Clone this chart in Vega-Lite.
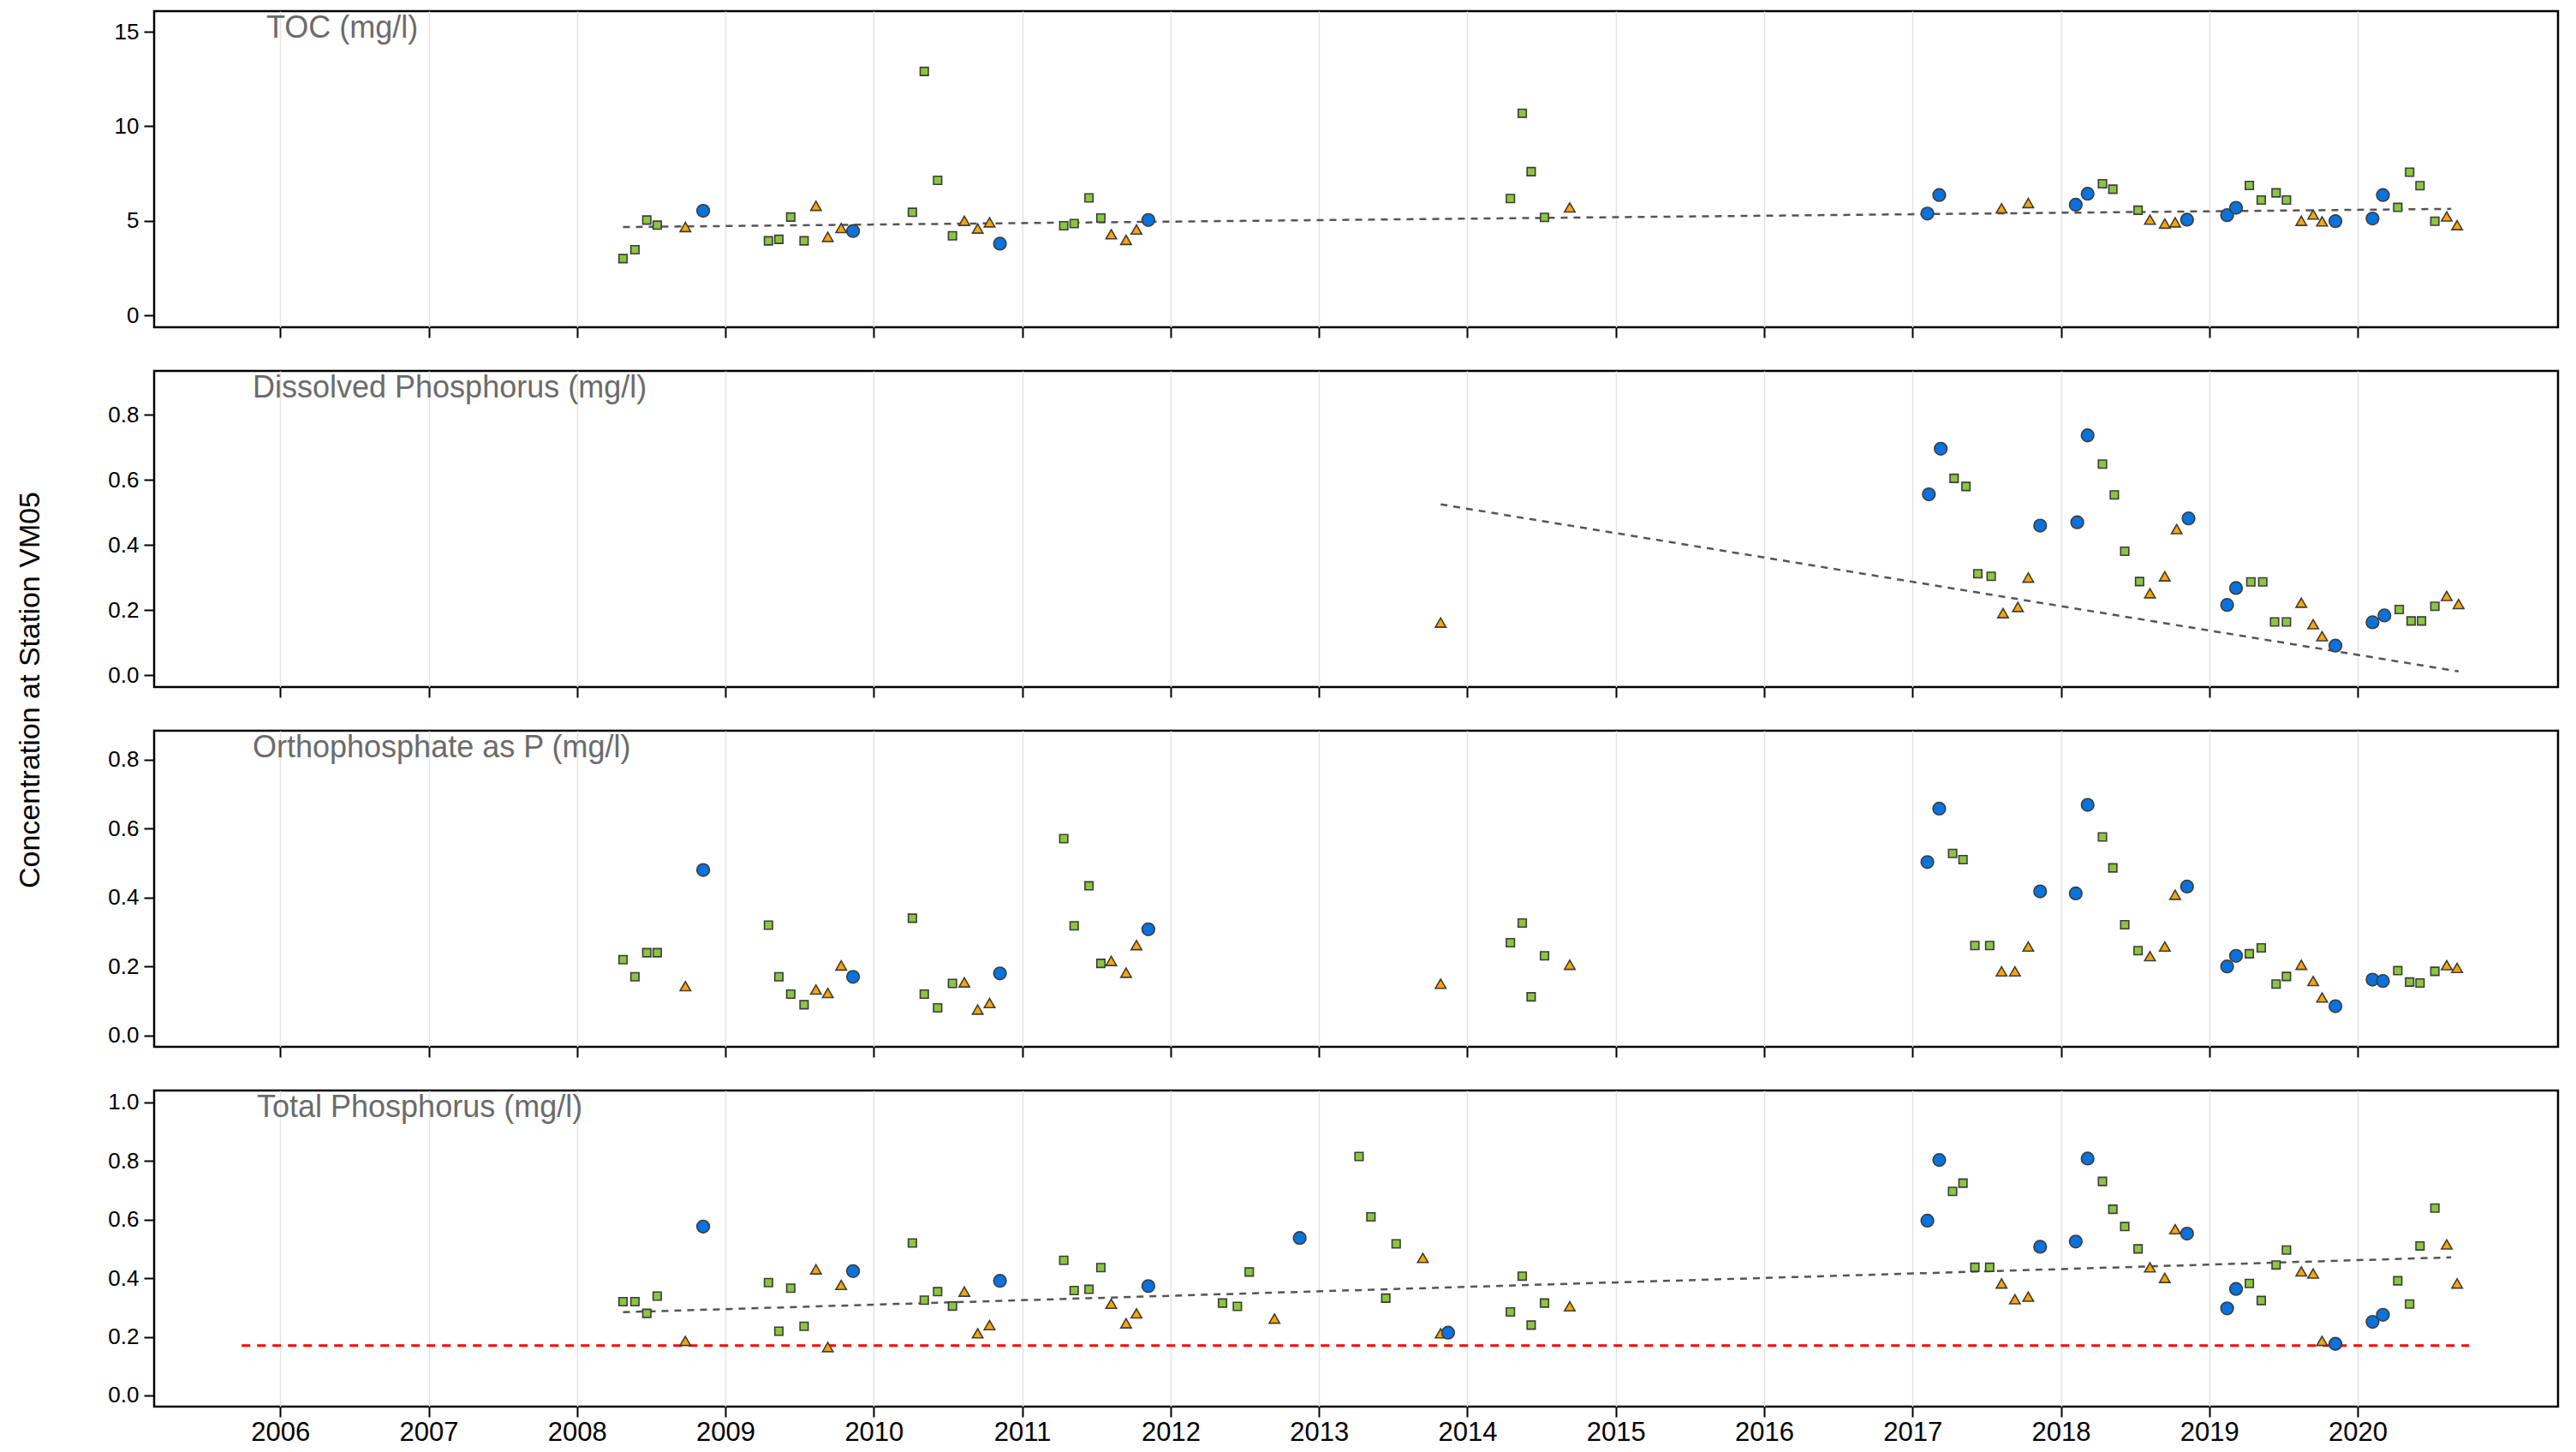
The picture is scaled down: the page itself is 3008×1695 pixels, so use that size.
{
  "$schema": "https://vega.github.io/schema/vega-lite/v6.json",
  "background": "white",
  "padding": {"left": 16, "top": 11, "right": 5, "bottom": 5},
  "bounds": "flush",
  "spacing": 51,
  "config": {
    "font": "Liberation Sans",
    "view": {"stroke": "#000000", "strokeWidth": 2.5},
    "axis": {"domain": false, "tickColor": "#000000", "tickWidth": 2, "tickSize": 12, "labelColor": "#000000", "labelFont": "Liberation Sans", "titleFont": "Liberation Sans", "titleFontWeight": "normal", "titleColor": "#000000"},
    "axisX": {"grid": true, "gridColor": "#e3e3e3", "gridWidth": 1.5, "labelFontSize": 31, "labelPadding": 3},
    "axisY": {"grid": false, "labelFontSize": 26, "labelPadding": 6},
    "title": {"anchor": "start", "frame": "group", "orient": "top", "offset": -39, "fontSize": 36, "fontWeight": "normal", "color": "#6b6b6b", "font": "Liberation Sans"}
  },
  "datasets": {
    "obs": [
      {"param": "TOC", "year": 2008.31, "value": 3.0, "season": "Apr-Jul"},
      {"param": "TOC", "year": 2008.39, "value": 3.47, "season": "Apr-Jul"},
      {"param": "TOC", "year": 2008.47, "value": 5.04, "season": "Apr-Jul"},
      {"param": "TOC", "year": 2008.54, "value": 4.77, "season": "Apr-Jul"},
      {"param": "TOC", "year": 2008.73, "value": 4.67, "season": "Aug-Oct"},
      {"param": "TOC", "year": 2008.85, "value": 5.53, "season": "Nov-Mar"},
      {"param": "TOC", "year": 2009.29, "value": 3.94, "season": "Apr-Jul"},
      {"param": "TOC", "year": 2009.36, "value": 4.02, "season": "Apr-Jul"},
      {"param": "TOC", "year": 2009.44, "value": 5.2, "season": "Apr-Jul"},
      {"param": "TOC", "year": 2009.53, "value": 3.94, "season": "Apr-Jul"},
      {"param": "TOC", "year": 2009.61, "value": 5.79, "season": "Aug-Oct"},
      {"param": "TOC", "year": 2009.69, "value": 4.15, "season": "Aug-Oct"},
      {"param": "TOC", "year": 2009.78, "value": 4.62, "season": "Aug-Oct"},
      {"param": "TOC", "year": 2009.86, "value": 4.46, "season": "Nov-Mar"},
      {"param": "TOC", "year": 2010.26, "value": 5.45, "season": "Apr-Jul"},
      {"param": "TOC", "year": 2010.34, "value": 12.9, "season": "Apr-Jul"},
      {"param": "TOC", "year": 2010.43, "value": 7.14, "season": "Apr-Jul"},
      {"param": "TOC", "year": 2010.53, "value": 4.21, "season": "Apr-Jul"},
      {"param": "TOC", "year": 2010.61, "value": 5.0, "season": "Aug-Oct"},
      {"param": "TOC", "year": 2010.70, "value": 4.59, "season": "Aug-Oct"},
      {"param": "TOC", "year": 2010.78, "value": 4.92, "season": "Aug-Oct"},
      {"param": "TOC", "year": 2010.85, "value": 3.79, "season": "Nov-Mar"},
      {"param": "TOC", "year": 2011.28, "value": 4.74, "season": "Apr-Jul"},
      {"param": "TOC", "year": 2011.35, "value": 4.85, "season": "Apr-Jul"},
      {"param": "TOC", "year": 2011.45, "value": 6.21, "season": "Apr-Jul"},
      {"param": "TOC", "year": 2011.53, "value": 5.15, "season": "Apr-Jul"},
      {"param": "TOC", "year": 2011.60, "value": 4.29, "season": "Aug-Oct"},
      {"param": "TOC", "year": 2011.70, "value": 3.99, "season": "Aug-Oct"},
      {"param": "TOC", "year": 2011.77, "value": 4.54, "season": "Aug-Oct"},
      {"param": "TOC", "year": 2011.85, "value": 5.04, "season": "Nov-Mar"},
      {"param": "TOC", "year": 2014.29, "value": 6.18, "season": "Apr-Jul"},
      {"param": "TOC", "year": 2014.37, "value": 10.69, "season": "Apr-Jul"},
      {"param": "TOC", "year": 2014.43, "value": 7.6, "season": "Apr-Jul"},
      {"param": "TOC", "year": 2014.52, "value": 5.18, "season": "Apr-Jul"},
      {"param": "TOC", "year": 2014.69, "value": 5.71, "season": "Aug-Oct"},
      {"param": "TOC", "year": 2017.10, "value": 5.38, "season": "Nov-Mar"},
      {"param": "TOC", "year": 2017.18, "value": 6.36, "season": "Nov-Mar"},
      {"param": "TOC", "year": 2017.60, "value": 5.66, "season": "Aug-Oct"},
      {"param": "TOC", "year": 2017.78, "value": 5.94, "season": "Aug-Oct"},
      {"param": "TOC", "year": 2018.10, "value": 5.85, "season": "Nov-Mar"},
      {"param": "TOC", "year": 2018.18, "value": 6.43, "season": "Nov-Mar"},
      {"param": "TOC", "year": 2018.28, "value": 6.96, "season": "Apr-Jul"},
      {"param": "TOC", "year": 2018.35, "value": 6.67, "season": "Apr-Jul"},
      {"param": "TOC", "year": 2018.52, "value": 5.56, "season": "Apr-Jul"},
      {"param": "TOC", "year": 2018.60, "value": 5.06, "season": "Aug-Oct"},
      {"param": "TOC", "year": 2018.70, "value": 4.85, "season": "Aug-Oct"},
      {"param": "TOC", "year": 2018.77, "value": 4.92, "season": "Aug-Oct"},
      {"param": "TOC", "year": 2018.85, "value": 5.06, "season": "Nov-Mar"},
      {"param": "TOC", "year": 2019.12, "value": 5.3, "season": "Nov-Mar"},
      {"param": "TOC", "year": 2019.18, "value": 5.69, "season": "Nov-Mar"},
      {"param": "TOC", "year": 2019.27, "value": 6.87, "season": "Apr-Jul"},
      {"param": "TOC", "year": 2019.35, "value": 6.1, "season": "Apr-Jul"},
      {"param": "TOC", "year": 2019.45, "value": 6.48, "season": "Apr-Jul"},
      {"param": "TOC", "year": 2019.52, "value": 6.1, "season": "Apr-Jul"},
      {"param": "TOC", "year": 2019.62, "value": 5.0, "season": "Aug-Oct"},
      {"param": "TOC", "year": 2019.70, "value": 5.33, "season": "Aug-Oct"},
      {"param": "TOC", "year": 2019.76, "value": 4.97, "season": "Aug-Oct"},
      {"param": "TOC", "year": 2019.85, "value": 4.98, "season": "Nov-Mar"},
      {"param": "TOC", "year": 2020.10, "value": 5.12, "season": "Nov-Mar"},
      {"param": "TOC", "year": 2020.17, "value": 6.36, "season": "Nov-Mar"},
      {"param": "TOC", "year": 2020.27, "value": 5.71, "season": "Apr-Jul"},
      {"param": "TOC", "year": 2020.35, "value": 7.57, "season": "Apr-Jul"},
      {"param": "TOC", "year": 2020.42, "value": 6.86, "season": "Apr-Jul"},
      {"param": "TOC", "year": 2020.52, "value": 4.98, "season": "Apr-Jul"},
      {"param": "TOC", "year": 2020.60, "value": 5.23, "season": "Aug-Oct"},
      {"param": "TOC", "year": 2020.67, "value": 4.77, "season": "Aug-Oct"},

      {"param": "DP", "year": 2013.82, "value": 0.162, "season": "Aug-Oct"},
      {"param": "DP", "year": 2017.11, "value": 0.556, "season": "Nov-Mar"},
      {"param": "DP", "year": 2017.19, "value": 0.696, "season": "Nov-Mar"},
      {"param": "DP", "year": 2017.28, "value": 0.605, "season": "Apr-Jul"},
      {"param": "DP", "year": 2017.36, "value": 0.58, "season": "Apr-Jul"},
      {"param": "DP", "year": 2017.44, "value": 0.312, "season": "Apr-Jul"},
      {"param": "DP", "year": 2017.53, "value": 0.304, "season": "Apr-Jul"},
      {"param": "DP", "year": 2017.61, "value": 0.191, "season": "Aug-Oct"},
      {"param": "DP", "year": 2017.71, "value": 0.21, "season": "Aug-Oct"},
      {"param": "DP", "year": 2017.78, "value": 0.30, "season": "Aug-Oct"},
      {"param": "DP", "year": 2017.86, "value": 0.46, "season": "Nov-Mar"},
      {"param": "DP", "year": 2018.11, "value": 0.47, "season": "Nov-Mar"},
      {"param": "DP", "year": 2018.18, "value": 0.737, "season": "Nov-Mar"},
      {"param": "DP", "year": 2018.28, "value": 0.649, "season": "Apr-Jul"},
      {"param": "DP", "year": 2018.36, "value": 0.554, "season": "Apr-Jul"},
      {"param": "DP", "year": 2018.43, "value": 0.381, "season": "Apr-Jul"},
      {"param": "DP", "year": 2018.53, "value": 0.288, "season": "Apr-Jul"},
      {"param": "DP", "year": 2018.60, "value": 0.252, "season": "Aug-Oct"},
      {"param": "DP", "year": 2018.70, "value": 0.304, "season": "Aug-Oct"},
      {"param": "DP", "year": 2018.78, "value": 0.449, "season": "Aug-Oct"},
      {"param": "DP", "year": 2018.86, "value": 0.482, "season": "Nov-Mar"},
      {"param": "DP", "year": 2019.12, "value": 0.216, "season": "Nov-Mar"},
      {"param": "DP", "year": 2019.18, "value": 0.268, "season": "Nov-Mar"},
      {"param": "DP", "year": 2019.28, "value": 0.287, "season": "Apr-Jul"},
      {"param": "DP", "year": 2019.36, "value": 0.287, "season": "Apr-Jul"},
      {"param": "DP", "year": 2019.44, "value": 0.164, "season": "Apr-Jul"},
      {"param": "DP", "year": 2019.52, "value": 0.164, "season": "Apr-Jul"},
      {"param": "DP", "year": 2019.62, "value": 0.223, "season": "Aug-Oct"},
      {"param": "DP", "year": 2019.70, "value": 0.157, "season": "Aug-Oct"},
      {"param": "DP", "year": 2019.76, "value": 0.12, "season": "Aug-Oct"},
      {"param": "DP", "year": 2019.85, "value": 0.091, "season": "Nov-Mar"},
      {"param": "DP", "year": 2020.10, "value": 0.163, "season": "Nov-Mar"},
      {"param": "DP", "year": 2020.18, "value": 0.184, "season": "Nov-Mar"},
      {"param": "DP", "year": 2020.28, "value": 0.202, "season": "Apr-Jul"},
      {"param": "DP", "year": 2020.36, "value": 0.167, "season": "Apr-Jul"},
      {"param": "DP", "year": 2020.43, "value": 0.167, "season": "Apr-Jul"},
      {"param": "DP", "year": 2020.52, "value": 0.212, "season": "Apr-Jul"},
      {"param": "DP", "year": 2020.60, "value": 0.244, "season": "Aug-Oct"},
      {"param": "DP", "year": 2020.68, "value": 0.219, "season": "Aug-Oct"},

      {"param": "OP", "year": 2008.31, "value": 0.220, "season": "Apr-Jul"},
      {"param": "OP", "year": 2008.39, "value": 0.170, "season": "Apr-Jul"},
      {"param": "OP", "year": 2008.47, "value": 0.240, "season": "Apr-Jul"},
      {"param": "OP", "year": 2008.54, "value": 0.240, "season": "Apr-Jul"},
      {"param": "OP", "year": 2008.73, "value": 0.143, "season": "Aug-Oct"},
      {"param": "OP", "year": 2008.85, "value": 0.480, "season": "Nov-Mar"},
      {"param": "OP", "year": 2009.29, "value": 0.320, "season": "Apr-Jul"},
      {"param": "OP", "year": 2009.36, "value": 0.170, "season": "Apr-Jul"},
      {"param": "OP", "year": 2009.44, "value": 0.120, "season": "Apr-Jul"},
      {"param": "OP", "year": 2009.53, "value": 0.089, "season": "Apr-Jul"},
      {"param": "OP", "year": 2009.61, "value": 0.133, "season": "Aug-Oct"},
      {"param": "OP", "year": 2009.69, "value": 0.123, "season": "Aug-Oct"},
      {"param": "OP", "year": 2009.78, "value": 0.203, "season": "Aug-Oct"},
      {"param": "OP", "year": 2009.86, "value": 0.170, "season": "Nov-Mar"},
      {"param": "OP", "year": 2010.26, "value": 0.340, "season": "Apr-Jul"},
      {"param": "OP", "year": 2010.34, "value": 0.120, "season": "Apr-Jul"},
      {"param": "OP", "year": 2010.43, "value": 0.080, "season": "Apr-Jul"},
      {"param": "OP", "year": 2010.53, "value": 0.151, "season": "Apr-Jul"},
      {"param": "OP", "year": 2010.61, "value": 0.154, "season": "Aug-Oct"},
      {"param": "OP", "year": 2010.70, "value": 0.075, "season": "Aug-Oct"},
      {"param": "OP", "year": 2010.78, "value": 0.094, "season": "Aug-Oct"},
      {"param": "OP", "year": 2010.85, "value": 0.180, "season": "Nov-Mar"},
      {"param": "OP", "year": 2011.28, "value": 0.571, "season": "Apr-Jul"},
      {"param": "OP", "year": 2011.35, "value": 0.318, "season": "Apr-Jul"},
      {"param": "OP", "year": 2011.45, "value": 0.434, "season": "Apr-Jul"},
      {"param": "OP", "year": 2011.53, "value": 0.209, "season": "Apr-Jul"},
      {"param": "OP", "year": 2011.60, "value": 0.216, "season": "Aug-Oct"},
      {"param": "OP", "year": 2011.70, "value": 0.182, "season": "Aug-Oct"},
      {"param": "OP", "year": 2011.77, "value": 0.262, "season": "Aug-Oct"},
      {"param": "OP", "year": 2011.85, "value": 0.308, "season": "Nov-Mar"},
      {"param": "OP", "year": 2013.82, "value": 0.150, "season": "Aug-Oct"},
      {"param": "OP", "year": 2014.29, "value": 0.269, "season": "Apr-Jul"},
      {"param": "OP", "year": 2014.37, "value": 0.326, "season": "Apr-Jul"},
      {"param": "OP", "year": 2014.43, "value": 0.112, "season": "Apr-Jul"},
      {"param": "OP", "year": 2014.52, "value": 0.231, "season": "Apr-Jul"},
      {"param": "OP", "year": 2014.69, "value": 0.205, "season": "Aug-Oct"},
      {"param": "OP", "year": 2017.10, "value": 0.503, "season": "Nov-Mar"},
      {"param": "OP", "year": 2017.18, "value": 0.658, "season": "Nov-Mar"},
      {"param": "OP", "year": 2017.27, "value": 0.528, "season": "Apr-Jul"},
      {"param": "OP", "year": 2017.34, "value": 0.510, "season": "Apr-Jul"},
      {"param": "OP", "year": 2017.42, "value": 0.261, "season": "Apr-Jul"},
      {"param": "OP", "year": 2017.52, "value": 0.261, "season": "Apr-Jul"},
      {"param": "OP", "year": 2017.60, "value": 0.186, "season": "Aug-Oct"},
      {"param": "OP", "year": 2017.69, "value": 0.186, "season": "Aug-Oct"},
      {"param": "OP", "year": 2017.78, "value": 0.258, "season": "Aug-Oct"},
      {"param": "OP", "year": 2017.86, "value": 0.418, "season": "Nov-Mar"},
      {"param": "OP", "year": 2018.10, "value": 0.412, "season": "Nov-Mar"},
      {"param": "OP", "year": 2018.18, "value": 0.669, "season": "Nov-Mar"},
      {"param": "OP", "year": 2018.28, "value": 0.576, "season": "Apr-Jul"},
      {"param": "OP", "year": 2018.35, "value": 0.486, "season": "Apr-Jul"},
      {"param": "OP", "year": 2018.43, "value": 0.321, "season": "Apr-Jul"},
      {"param": "OP", "year": 2018.52, "value": 0.246, "season": "Apr-Jul"},
      {"param": "OP", "year": 2018.60, "value": 0.230, "season": "Aug-Oct"},
      {"param": "OP", "year": 2018.70, "value": 0.258, "season": "Aug-Oct"},
      {"param": "OP", "year": 2018.77, "value": 0.408, "season": "Aug-Oct"},
      {"param": "OP", "year": 2018.85, "value": 0.432, "season": "Nov-Mar"},
      {"param": "OP", "year": 2019.12, "value": 0.200, "season": "Nov-Mar"},
      {"param": "OP", "year": 2019.18, "value": 0.231, "season": "Nov-Mar"},
      {"param": "OP", "year": 2019.27, "value": 0.237, "season": "Apr-Jul"},
      {"param": "OP", "year": 2019.35, "value": 0.254, "season": "Apr-Jul"},
      {"param": "OP", "year": 2019.45, "value": 0.149, "season": "Apr-Jul"},
      {"param": "OP", "year": 2019.52, "value": 0.171, "season": "Apr-Jul"},
      {"param": "OP", "year": 2019.62, "value": 0.205, "season": "Aug-Oct"},
      {"param": "OP", "year": 2019.70, "value": 0.158, "season": "Aug-Oct"},
      {"param": "OP", "year": 2019.76, "value": 0.110, "season": "Aug-Oct"},
      {"param": "OP", "year": 2019.85, "value": 0.085, "season": "Nov-Mar"},
      {"param": "OP", "year": 2020.10, "value": 0.162, "season": "Nov-Mar"},
      {"param": "OP", "year": 2020.17, "value": 0.158, "season": "Nov-Mar"},
      {"param": "OP", "year": 2020.27, "value": 0.188, "season": "Apr-Jul"},
      {"param": "OP", "year": 2020.35, "value": 0.155, "season": "Apr-Jul"},
      {"param": "OP", "year": 2020.42, "value": 0.152, "season": "Apr-Jul"},
      {"param": "OP", "year": 2020.52, "value": 0.186, "season": "Apr-Jul"},
      {"param": "OP", "year": 2020.60, "value": 0.204, "season": "Aug-Oct"},
      {"param": "OP", "year": 2020.67, "value": 0.196, "season": "Aug-Oct"},

      {"param": "TP", "year": 2008.31, "value": 0.320, "season": "Apr-Jul"},
      {"param": "TP", "year": 2008.39, "value": 0.320, "season": "Apr-Jul"},
      {"param": "TP", "year": 2008.47, "value": 0.280, "season": "Apr-Jul"},
      {"param": "TP", "year": 2008.54, "value": 0.339, "season": "Apr-Jul"},
      {"param": "TP", "year": 2008.73, "value": 0.186, "season": "Aug-Oct"},
      {"param": "TP", "year": 2008.85, "value": 0.576, "season": "Nov-Mar"},
      {"param": "TP", "year": 2009.29, "value": 0.385, "season": "Apr-Jul"},
      {"param": "TP", "year": 2009.36, "value": 0.219, "season": "Apr-Jul"},
      {"param": "TP", "year": 2009.44, "value": 0.366, "season": "Apr-Jul"},
      {"param": "TP", "year": 2009.53, "value": 0.236, "season": "Apr-Jul"},
      {"param": "TP", "year": 2009.61, "value": 0.430, "season": "Aug-Oct"},
      {"param": "TP", "year": 2009.69, "value": 0.165, "season": "Aug-Oct"},
      {"param": "TP", "year": 2009.78, "value": 0.377, "season": "Aug-Oct"},
      {"param": "TP", "year": 2009.86, "value": 0.424, "season": "Nov-Mar"},
      {"param": "TP", "year": 2010.26, "value": 0.520, "season": "Apr-Jul"},
      {"param": "TP", "year": 2010.34, "value": 0.325, "season": "Apr-Jul"},
      {"param": "TP", "year": 2010.43, "value": 0.354, "season": "Apr-Jul"},
      {"param": "TP", "year": 2010.53, "value": 0.305, "season": "Apr-Jul"},
      {"param": "TP", "year": 2010.61, "value": 0.354, "season": "Aug-Oct"},
      {"param": "TP", "year": 2010.70, "value": 0.212, "season": "Aug-Oct"},
      {"param": "TP", "year": 2010.78, "value": 0.240, "season": "Aug-Oct"},
      {"param": "TP", "year": 2010.85, "value": 0.391, "season": "Nov-Mar"},
      {"param": "TP", "year": 2011.28, "value": 0.461, "season": "Apr-Jul"},
      {"param": "TP", "year": 2011.35, "value": 0.358, "season": "Apr-Jul"},
      {"param": "TP", "year": 2011.45, "value": 0.362, "season": "Apr-Jul"},
      {"param": "TP", "year": 2011.53, "value": 0.436, "season": "Apr-Jul"},
      {"param": "TP", "year": 2011.60, "value": 0.313, "season": "Aug-Oct"},
      {"param": "TP", "year": 2011.70, "value": 0.246, "season": "Aug-Oct"},
      {"param": "TP", "year": 2011.77, "value": 0.280, "season": "Aug-Oct"},
      {"param": "TP", "year": 2011.85, "value": 0.373, "season": "Nov-Mar"},
      {"param": "TP", "year": 2012.35, "value": 0.315, "season": "Apr-Jul"},
      {"param": "TP", "year": 2012.45, "value": 0.304, "season": "Apr-Jul"},
      {"param": "TP", "year": 2012.53, "value": 0.421, "season": "Apr-Jul"},
      {"param": "TP", "year": 2012.70, "value": 0.262, "season": "Aug-Oct"},
      {"param": "TP", "year": 2012.87, "value": 0.537, "season": "Nov-Mar"},
      {"param": "TP", "year": 2013.27, "value": 0.815, "season": "Apr-Jul"},
      {"param": "TP", "year": 2013.35, "value": 0.609, "season": "Apr-Jul"},
      {"param": "TP", "year": 2013.45, "value": 0.332, "season": "Apr-Jul"},
      {"param": "TP", "year": 2013.52, "value": 0.517, "season": "Apr-Jul"},
      {"param": "TP", "year": 2013.70, "value": 0.469, "season": "Aug-Oct"},
      {"param": "TP", "year": 2013.82, "value": 0.212, "season": "Aug-Oct"},
      {"param": "TP", "year": 2013.87, "value": 0.214, "season": "Nov-Mar"},
      {"param": "TP", "year": 2014.29, "value": 0.285, "season": "Apr-Jul"},
      {"param": "TP", "year": 2014.37, "value": 0.407, "season": "Apr-Jul"},
      {"param": "TP", "year": 2014.43, "value": 0.240, "season": "Apr-Jul"},
      {"param": "TP", "year": 2014.52, "value": 0.315, "season": "Apr-Jul"},
      {"param": "TP", "year": 2014.69, "value": 0.304, "season": "Aug-Oct"},
      {"param": "TP", "year": 2017.10, "value": 0.596, "season": "Nov-Mar"},
      {"param": "TP", "year": 2017.18, "value": 0.803, "season": "Nov-Mar"},
      {"param": "TP", "year": 2017.27, "value": 0.696, "season": "Apr-Jul"},
      {"param": "TP", "year": 2017.34, "value": 0.724, "season": "Apr-Jul"},
      {"param": "TP", "year": 2017.42, "value": 0.437, "season": "Apr-Jul"},
      {"param": "TP", "year": 2017.52, "value": 0.437, "season": "Apr-Jul"},
      {"param": "TP", "year": 2017.60, "value": 0.382, "season": "Aug-Oct"},
      {"param": "TP", "year": 2017.69, "value": 0.328, "season": "Aug-Oct"},
      {"param": "TP", "year": 2017.78, "value": 0.337, "season": "Aug-Oct"},
      {"param": "TP", "year": 2017.86, "value": 0.507, "season": "Nov-Mar"},
      {"param": "TP", "year": 2018.10, "value": 0.525, "season": "Nov-Mar"},
      {"param": "TP", "year": 2018.18, "value": 0.808, "season": "Nov-Mar"},
      {"param": "TP", "year": 2018.28, "value": 0.730, "season": "Apr-Jul"},
      {"param": "TP", "year": 2018.35, "value": 0.635, "season": "Apr-Jul"},
      {"param": "TP", "year": 2018.43, "value": 0.576, "season": "Apr-Jul"},
      {"param": "TP", "year": 2018.52, "value": 0.500, "season": "Apr-Jul"},
      {"param": "TP", "year": 2018.60, "value": 0.437, "season": "Aug-Oct"},
      {"param": "TP", "year": 2018.70, "value": 0.401, "season": "Aug-Oct"},
      {"param": "TP", "year": 2018.77, "value": 0.567, "season": "Aug-Oct"},
      {"param": "TP", "year": 2018.85, "value": 0.552, "season": "Nov-Mar"},
      {"param": "TP", "year": 2019.12, "value": 0.297, "season": "Nov-Mar"},
      {"param": "TP", "year": 2019.18, "value": 0.363, "season": "Nov-Mar"},
      {"param": "TP", "year": 2019.27, "value": 0.382, "season": "Apr-Jul"},
      {"param": "TP", "year": 2019.35, "value": 0.324, "season": "Apr-Jul"},
      {"param": "TP", "year": 2019.45, "value": 0.445, "season": "Apr-Jul"},
      {"param": "TP", "year": 2019.52, "value": 0.496, "season": "Apr-Jul"},
      {"param": "TP", "year": 2019.62, "value": 0.423, "season": "Aug-Oct"},
      {"param": "TP", "year": 2019.70, "value": 0.416, "season": "Aug-Oct"},
      {"param": "TP", "year": 2019.76, "value": 0.186, "season": "Aug-Oct"},
      {"param": "TP", "year": 2019.85, "value": 0.176, "season": "Nov-Mar"},
      {"param": "TP", "year": 2020.10, "value": 0.251, "season": "Nov-Mar"},
      {"param": "TP", "year": 2020.17, "value": 0.275, "season": "Nov-Mar"},
      {"param": "TP", "year": 2020.27, "value": 0.391, "season": "Apr-Jul"},
      {"param": "TP", "year": 2020.35, "value": 0.312, "season": "Apr-Jul"},
      {"param": "TP", "year": 2020.42, "value": 0.510, "season": "Apr-Jul"},
      {"param": "TP", "year": 2020.52, "value": 0.639, "season": "Apr-Jul"},
      {"param": "TP", "year": 2020.60, "value": 0.515, "season": "Aug-Oct"},
      {"param": "TP", "year": 2020.67, "value": 0.382, "season": "Aug-Oct"}
    ],
    "trend": [
      {"param": "TOC", "year": 2008.31, "value": 4.67},
      {"param": "TOC", "year": 2020.63, "value": 5.63},
      {"param": "DP", "year": 2013.82, "value": 0.525},
      {"param": "DP", "year": 2020.68, "value": 0.012},
      {"param": "TP", "year": 2008.31, "value": 0.284},
      {"param": "TP", "year": 2020.63, "value": 0.471}
    ],
    "reference": [
      {"param": "TP", "start": 2005.74, "end": 2020.75, "value": 0.17}
    ]
  },
  "vconcat": [
    {
      "width": 2807,
      "height": 369,
      "title": {"text": "TOC (mg/l)", "dx": 131},
      "layer": [
        {
          "data": {"name": "trend"},
          "transform": [{"filter": "datum.param === 'TOC'"}],
          "mark": {"type": "line", "stroke": "#555555", "strokeWidth": 2.5, "strokeDash": [8, 7]},
          "encoding": {
            "x": {"field": "year", "type": "quantitative", "scale": {"domain": [2005.15, 2021.35], "nice": false, "zero": false}, "axis": {"values": [2006, 2007, 2008, 2009, 2010, 2011, 2012, 2013, 2014, 2015, 2016, 2017, 2018, 2019, 2020], "format": "d", "labels": false, "title": null}},
            "y": {"field": "value", "type": "quantitative", "scale": {"domain": [-0.63, 16.09], "nice": false, "zero": false}, "axis": {"values": [0, 5, 10, 15], "format": "d", "title": null}}
          }
        },
        {
          "data": {"name": "obs"},
          "transform": [{"filter": "datum.param === 'TOC'"}],
          "mark": {"type": "point", "filled": true, "stroke": "#3c3c3c", "strokeWidth": 1.6, "opacity": 1},
          "encoding": {
            "x": {"field": "year", "type": "quantitative"},
            "y": {"field": "value", "type": "quantitative"},
            "shape": {"field": "season", "type": "nominal", "scale": {"domain": ["Apr-Jul", "Aug-Oct", "Nov-Mar"], "range": ["square", "triangle-up", "circle"]}, "legend": null},
            "fill": {"field": "season", "type": "nominal", "scale": {"domain": ["Apr-Jul", "Aug-Oct", "Nov-Mar"], "range": ["#8cc63e", "#ffa500", "#0a72dc"]}, "legend": null},
            "size": {"field": "season", "type": "nominal", "scale": {"domain": ["Apr-Jul", "Aug-Oct", "Nov-Mar"], "range": [90, 215, 95]}, "legend": null}
          }
        }
      ]
    },
    {
      "width": 2807,
      "height": 369,
      "title": {"text": "Dissolved Phosphorus (mg/l)", "dx": 115},
      "layer": [
        {
          "data": {"name": "trend"},
          "transform": [{"filter": "datum.param === 'DP'"}],
          "mark": {"type": "line", "stroke": "#555555", "strokeWidth": 2.5, "strokeDash": [8, 7]},
          "encoding": {
            "x": {"field": "year", "type": "quantitative", "scale": {"domain": [2005.15, 2021.35], "nice": false, "zero": false}, "axis": {"values": [2006, 2007, 2008, 2009, 2010, 2011, 2012, 2013, 2014, 2015, 2016, 2017, 2018, 2019, 2020], "format": "d", "labels": false, "title": null}},
            "y": {"field": "value", "type": "quantitative", "scale": {"domain": [-0.036, 0.935], "nice": false, "zero": false}, "axis": {"values": [0, 0.2, 0.4, 0.6, 0.8], "format": ".1f", "title": "Concentration at Station VM05", "titleFontSize": 34, "titleX": -145, "titleY": 372, "titleAngle": 270, "titleAlign": "center", "titleBaseline": "middle"}}
          }
        },
        {
          "data": {"name": "obs"},
          "transform": [{"filter": "datum.param === 'DP'"}],
          "mark": {"type": "point", "filled": true, "stroke": "#3c3c3c", "strokeWidth": 1.6, "opacity": 1},
          "encoding": {
            "x": {"field": "year", "type": "quantitative"},
            "y": {"field": "value", "type": "quantitative"},
            "shape": {"field": "season", "type": "nominal", "scale": {"domain": ["Apr-Jul", "Aug-Oct", "Nov-Mar"], "range": ["square", "triangle-up", "circle"]}, "legend": null},
            "fill": {"field": "season", "type": "nominal", "scale": {"domain": ["Apr-Jul", "Aug-Oct", "Nov-Mar"], "range": ["#8cc63e", "#ffa500", "#0a72dc"]}, "legend": null},
            "size": {"field": "season", "type": "nominal", "scale": {"domain": ["Apr-Jul", "Aug-Oct", "Nov-Mar"], "range": [90, 215, 95]}, "legend": null}
          }
        }
      ]
    },
    {
      "width": 2807,
      "height": 369,
      "title": {"text": "Orthophosphate as P (mg/l)", "dx": 115},
      "layer": [
        {
          "data": {"name": "obs"},
          "transform": [{"filter": "datum.param === 'OP'"}],
          "mark": {"type": "point", "filled": true, "stroke": "#3c3c3c", "strokeWidth": 1.6, "opacity": 1},
          "encoding": {
            "x": {"field": "year", "type": "quantitative", "scale": {"domain": [2005.15, 2021.35], "nice": false, "zero": false}, "axis": {"values": [2006, 2007, 2008, 2009, 2010, 2011, 2012, 2013, 2014, 2015, 2016, 2017, 2018, 2019, 2020], "format": "d", "labels": false, "title": null}},
            "y": {"field": "value", "type": "quantitative", "scale": {"domain": [-0.033, 0.884], "nice": false, "zero": false}, "axis": {"values": [0, 0.2, 0.4, 0.6, 0.8], "format": ".1f", "title": null}},
            "shape": {"field": "season", "type": "nominal", "scale": {"domain": ["Apr-Jul", "Aug-Oct", "Nov-Mar"], "range": ["square", "triangle-up", "circle"]}, "legend": null},
            "fill": {"field": "season", "type": "nominal", "scale": {"domain": ["Apr-Jul", "Aug-Oct", "Nov-Mar"], "range": ["#8cc63e", "#ffa500", "#0a72dc"]}, "legend": null},
            "size": {"field": "season", "type": "nominal", "scale": {"domain": ["Apr-Jul", "Aug-Oct", "Nov-Mar"], "range": [90, 215, 95]}, "legend": null}
          }
        }
      ]
    },
    {
      "width": 2807,
      "height": 369,
      "title": {"text": "Total Phosphorus (mg/l)", "dx": 120},
      "layer": [
        {
          "data": {"name": "trend"},
          "transform": [{"filter": "datum.param === 'TP'"}],
          "mark": {"type": "line", "stroke": "#555555", "strokeWidth": 2.5, "strokeDash": [8, 7]},
          "encoding": {
            "x": {"field": "year", "type": "quantitative", "scale": {"domain": [2005.15, 2021.35], "nice": false, "zero": false}, "axis": {"values": [2006, 2007, 2008, 2009, 2010, 2011, 2012, 2013, 2014, 2015, 2016, 2017, 2018, 2019, 2020], "format": "d", "labels": true, "title": null}},
            "y": {"field": "value", "type": "quantitative", "scale": {"domain": [-0.038, 1.04], "nice": false, "zero": false}, "axis": {"values": [0, 0.2, 0.4, 0.6, 0.8, 1.0], "format": ".1f", "title": null}}
          }
        },
        {
          "data": {"name": "reference"},
          "mark": {"type": "rule", "stroke": "#ff0000", "strokeWidth": 3, "strokeDash": [10, 8]},
          "encoding": {
            "x": {"field": "start", "type": "quantitative"},
            "x2": {"field": "end"},
            "y": {"field": "value", "type": "quantitative"}
          }
        },
        {
          "data": {"name": "obs"},
          "transform": [{"filter": "datum.param === 'TP'"}],
          "mark": {"type": "point", "filled": true, "stroke": "#3c3c3c", "strokeWidth": 1.6, "opacity": 1},
          "encoding": {
            "x": {"field": "year", "type": "quantitative"},
            "y": {"field": "value", "type": "quantitative"},
            "shape": {"field": "season", "type": "nominal", "scale": {"domain": ["Apr-Jul", "Aug-Oct", "Nov-Mar"], "range": ["square", "triangle-up", "circle"]}, "legend": null},
            "fill": {"field": "season", "type": "nominal", "scale": {"domain": ["Apr-Jul", "Aug-Oct", "Nov-Mar"], "range": ["#8cc63e", "#ffa500", "#0a72dc"]}, "legend": null},
            "size": {"field": "season", "type": "nominal", "scale": {"domain": ["Apr-Jul", "Aug-Oct", "Nov-Mar"], "range": [90, 215, 95]}, "legend": null}
          }
        }
      ]
    }
  ]
}
